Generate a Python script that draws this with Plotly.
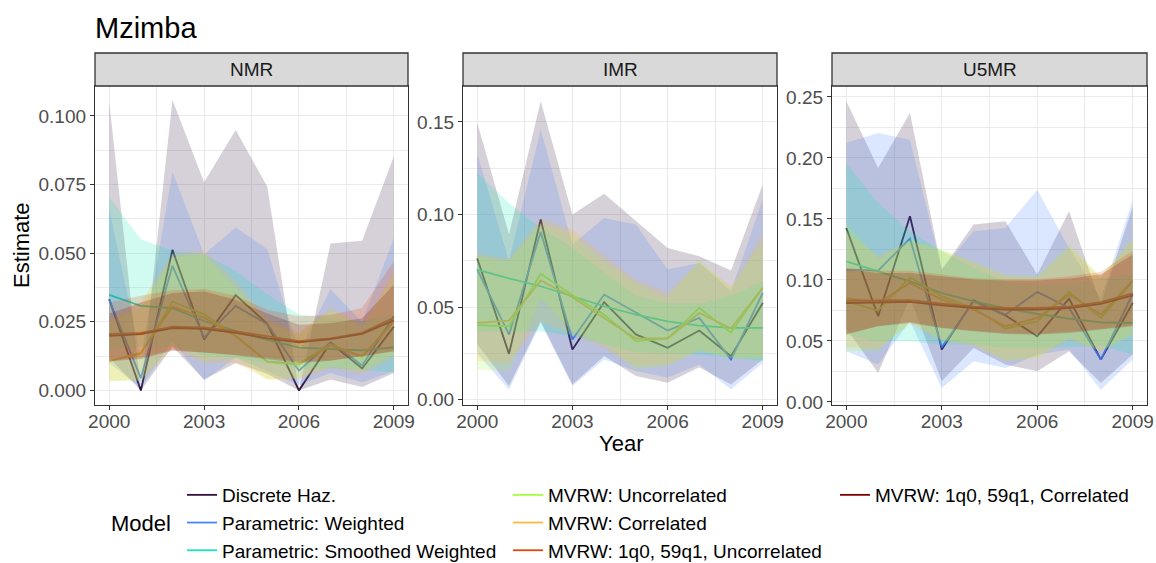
import plotly.graph_objects as go

# ---------------------------------------------------------------- data
years = list(range(2000, 2010))

models = [
    "Discrete Haz.",
    "Parametric: Weighted",
    "Parametric: Smoothed Weighted",
    "MVRW: Uncorrelated",
    "MVRW: Correlated",
    "MVRW: 1q0, 59q1, Uncorrelated",
    "MVRW: 1q0, 59q1, Correlated",
]
model_colors = ["#30123B", "#4686FB", "#1AE4B6", "#A2FC3C", "#FABA39", "#E4460A", "#7A0403"]

panels = ["NMR", "IMR", "U5MR"]

# --- NMR
nmr_dh = [0.0332, 0.0000, 0.0512, 0.0186, 0.0347, 0.0243, 0.0000, 0.0174, 0.0080, 0.0232]
nmr_dh_lo = [0.0120, 0.0000, 0.0160, 0.0040, 0.0100, 0.0060, 0.0000, 0.0040, 0.0013, 0.0064]
nmr_dh_hi = [0.1050, 0.0000, 0.1058, 0.0758, 0.0949, 0.0742, 0.0000, 0.0535, 0.0545, 0.0852]

nmr_pw = [0.0330, 0.0045, 0.0454, 0.0192, 0.0308, 0.0241, 0.0072, 0.0176, 0.0091, 0.0270]
nmr_pw_lo = [0.0100, 0.0010, 0.0180, 0.0036, 0.0120, 0.0070, 0.0020, 0.0064, 0.0030, 0.0070]
nmr_pw_hi = [0.0660, 0.0120, 0.0797, 0.0496, 0.0594, 0.0515, 0.0140, 0.0369, 0.0248, 0.0555]

nmr_psw = [0.0348, 0.0308, 0.0300, 0.0253, 0.0217, 0.0184, 0.0156, 0.0150, 0.0146, 0.0157]
nmr_psw_lo = [0.0150, 0.0160, 0.0160, 0.0130, 0.0120, 0.0100, 0.0080, 0.0080, 0.0075, 0.0065]
nmr_psw_hi = [0.0703, 0.0551, 0.0509, 0.0496, 0.0436, 0.0350, 0.0277, 0.0265, 0.0253, 0.0277]

nmr_mu = [0.0107, 0.0134, 0.0324, 0.0277, 0.0198, 0.0105, 0.0097, 0.0168, 0.0122, 0.0253]
nmr_mu_lo = [0.0034, 0.0034, 0.0168, 0.0107, 0.0120, 0.0040, 0.0046, 0.0089, 0.0070, 0.0131]
nmr_mu_hi = [0.0250, 0.0300, 0.0484, 0.0496, 0.0375, 0.0250, 0.0200, 0.0294, 0.0230, 0.0420]

nmr_mc = [0.0107, 0.0137, 0.0306, 0.0265, 0.0198, 0.0105, 0.0094, 0.0164, 0.0124, 0.0251]
nmr_mc_lo = [0.0035, 0.0040, 0.0150, 0.0100, 0.0100, 0.0040, 0.0040, 0.0080, 0.0060, 0.0120]
nmr_mc_hi = [0.0260, 0.0320, 0.0500, 0.0510, 0.0400, 0.0260, 0.0210, 0.0300, 0.0240, 0.0430]

nmr_m1u = [0.0205, 0.0210, 0.0232, 0.0230, 0.0215, 0.0197, 0.0180, 0.0190, 0.0210, 0.0265]
nmr_m1u_lo = [0.0110, 0.0120, 0.0148, 0.0140, 0.0130, 0.0120, 0.0105, 0.0110, 0.0125, 0.0145]
nmr_m1u_hi = [0.0320, 0.0345, 0.0365, 0.0370, 0.0345, 0.0294, 0.0270, 0.0275, 0.0300, 0.0470]

nmr_m1c = [0.0199, 0.0205, 0.0227, 0.0224, 0.0210, 0.0190, 0.0175, 0.0187, 0.0206, 0.0255]
nmr_m1c_lo = [0.0106, 0.0115, 0.0145, 0.0138, 0.0128, 0.0115, 0.0100, 0.0108, 0.0124, 0.0142]
nmr_m1c_hi = [0.0280, 0.0320, 0.0355, 0.0360, 0.0330, 0.0280, 0.0239, 0.0245, 0.0263, 0.0385]

# --- IMR
imr_dh = [0.0763, 0.0248, 0.0973, 0.0272, 0.0527, 0.0353, 0.0281, 0.0374, 0.0236, 0.0523]
imr_dh_lo = [0.0300, 0.0074, 0.0424, 0.0083, 0.0236, 0.0128, 0.0092, 0.0176, 0.0083, 0.0218]
imr_dh_hi = [0.1495, 0.0892, 0.1612, 0.1000, 0.1112, 0.0964, 0.0820, 0.0775, 0.0698, 0.1162]

imr_pw = [0.0703, 0.0353, 0.0906, 0.0326, 0.0568, 0.0469, 0.0374, 0.0442, 0.0218, 0.0577]
imr_pw_lo = [0.0250, 0.0056, 0.0415, 0.0074, 0.0218, 0.0155, 0.0119, 0.0190, 0.0056, 0.0200]
imr_pw_hi = [0.1327, 0.0750, 0.1459, 0.0838, 0.0982, 0.0946, 0.0703, 0.0739, 0.0586, 0.1081]

imr_psw = [0.0703, 0.0655, 0.0613, 0.0559, 0.0505, 0.0460, 0.0424, 0.0401, 0.0388, 0.0388]
imr_psw_lo = [0.0370, 0.0365, 0.0370, 0.0344, 0.0300, 0.0260, 0.0250, 0.0245, 0.0227, 0.0209]
imr_psw_hi = [0.1225, 0.1063, 0.0928, 0.0820, 0.0685, 0.0560, 0.0520, 0.0520, 0.0560, 0.0640]

imr_mu = [0.0403, 0.0397, 0.0680, 0.0565, 0.0460, 0.0317, 0.0331, 0.0496, 0.0362, 0.0608]
imr_mu_lo = [0.0164, 0.0155, 0.0550, 0.0370, 0.0299, 0.0164, 0.0182, 0.0263, 0.0227, 0.0218]
imr_mu_hi = [0.0775, 0.0748, 0.0955, 0.0892, 0.0748, 0.0631, 0.0550, 0.0757, 0.0604, 0.0856]

imr_mc = [0.0415, 0.0428, 0.0644, 0.0554, 0.0442, 0.0331, 0.0331, 0.0469, 0.0385, 0.0604]
imr_mc_lo = [0.0209, 0.0200, 0.0424, 0.0350, 0.0280, 0.0180, 0.0190, 0.0270, 0.0230, 0.0230]
imr_mc_hi = [0.0790, 0.0760, 0.0980, 0.0920, 0.0780, 0.0650, 0.0580, 0.0740, 0.0610, 0.0900]

# --- U5MR
u5_dh = [0.1426, 0.0702, 0.1522, 0.0429, 0.0833, 0.0710, 0.0538, 0.0847, 0.0347, 0.0811]
u5_dh_lo = [0.0600, 0.0238, 0.0852, 0.0169, 0.0443, 0.0306, 0.0251, 0.0415, 0.0156, 0.0388]
u5_dh_hi = [0.2464, 0.1918, 0.2369, 0.1085, 0.1454, 0.1481, 0.1044, 0.1563, 0.0798, 0.1600]

u5_pw = [0.1085, 0.1077, 0.1339, 0.0448, 0.0825, 0.0716, 0.0902, 0.0770, 0.0347, 0.0885]
u5_pw_lo = [0.0415, 0.0306, 0.0661, 0.0115, 0.0333, 0.0279, 0.0388, 0.0429, 0.0101, 0.0347]
u5_pw_hi = [0.2123, 0.2205, 0.2150, 0.1085, 0.1399, 0.1426, 0.1740, 0.1260, 0.0850, 0.1658]

u5_psw = [0.1153, 0.1071, 0.0989, 0.0893, 0.0825, 0.0770, 0.0721, 0.0683, 0.0653, 0.0648]
u5_psw_lo = [0.0552, 0.0497, 0.0497, 0.0470, 0.0470, 0.0443, 0.0443, 0.0450, 0.0460, 0.0388]
u5_psw_hi = [0.1959, 0.1631, 0.1399, 0.1235, 0.1098, 0.0989, 0.0962, 0.0962, 0.1016, 0.1044]

u5_mu = [0.0825, 0.0749, 0.1022, 0.0866, 0.0770, 0.0601, 0.0661, 0.0902, 0.0689, 0.0989]
u5_mu_lo = [0.0415, 0.0415, 0.0661, 0.0511, 0.0470, 0.0333, 0.0361, 0.0525, 0.0415, 0.0552]
u5_mu_hi = [0.1467, 0.1167, 0.1331, 0.1249, 0.1153, 0.1044, 0.1030, 0.1290, 0.1030, 0.1344]

u5_mc = [0.0852, 0.0811, 0.0975, 0.0839, 0.0757, 0.0620, 0.0689, 0.0880, 0.0716, 0.0995]
u5_mc_lo = [0.0450, 0.0440, 0.0640, 0.0500, 0.0460, 0.0340, 0.0370, 0.0510, 0.0420, 0.0560]
u5_mc_hi = [0.1400, 0.1200, 0.1320, 0.1240, 0.1140, 0.1030, 0.1020, 0.1260, 0.1020, 0.1330]

u5_m1u = [0.0830, 0.0830, 0.0835, 0.0805, 0.0782, 0.0770, 0.0770, 0.0782, 0.0818, 0.0890]
u5_m1u_lo = [0.0560, 0.0625, 0.0655, 0.0610, 0.0585, 0.0565, 0.0560, 0.0575, 0.0600, 0.0630]
u5_m1u_hi = [0.1100, 0.1075, 0.1075, 0.1045, 0.1015, 0.1005, 0.1005, 0.1030, 0.1065, 0.1240]

u5_m1c = [0.0811, 0.0817, 0.0820, 0.0792, 0.0770, 0.0757, 0.0757, 0.0770, 0.0803, 0.0874]
u5_m1c_lo = [0.0552, 0.0620, 0.0648, 0.0607, 0.0579, 0.0557, 0.0552, 0.0566, 0.0593, 0.0620]
u5_m1c_hi = [0.1085, 0.1057, 0.1057, 0.1030, 0.1003, 0.0995, 0.0995, 0.1011, 0.1044, 0.1208]

# (estimate, lower, upper) per model and panel; None = model not fitted there
series = {
    "NMR": [
        (nmr_dh, nmr_dh_lo, nmr_dh_hi),
        (nmr_pw, nmr_pw_lo, nmr_pw_hi),
        (nmr_psw, nmr_psw_lo, nmr_psw_hi),
        (nmr_mu, nmr_mu_lo, nmr_mu_hi),
        (nmr_mc, nmr_mc_lo, nmr_mc_hi),
        (nmr_m1u, nmr_m1u_lo, nmr_m1u_hi),
        (nmr_m1c, nmr_m1c_lo, nmr_m1c_hi),
    ],
    "IMR": [
        (imr_dh, imr_dh_lo, imr_dh_hi),
        (imr_pw, imr_pw_lo, imr_pw_hi),
        (imr_psw, imr_psw_lo, imr_psw_hi),
        (imr_mu, imr_mu_lo, imr_mu_hi),
        (imr_mc, imr_mc_lo, imr_mc_hi),
        None,
        None,
    ],
    "U5MR": [
        (u5_dh, u5_dh_lo, u5_dh_hi),
        (u5_pw, u5_pw_lo, u5_pw_hi),
        (u5_psw, u5_psw_lo, u5_psw_hi),
        (u5_mu, u5_mu_lo, u5_mu_hi),
        (u5_mc, u5_mc_lo, u5_mc_hi),
        (u5_m1u, u5_m1u_lo, u5_m1u_hi),
        (u5_m1c, u5_m1c_lo, u5_m1c_hi),
    ],
}

x_ticks = [2000, 2003, 2006, 2009]
y_ticks = {
    "NMR": [0.0, 0.025, 0.05, 0.075, 0.1],
    "IMR": [0.0, 0.05, 0.1, 0.15],
    "U5MR": [0.0, 0.05, 0.1, 0.15, 0.2, 0.25],
}
y_ticktext = {
    "NMR": ["0.000", "0.025", "0.050", "0.075", "0.100"],
    "IMR": ["0.00", "0.05", "0.10", "0.15"],
    "U5MR": ["0.00", "0.05", "0.10", "0.15", "0.20", "0.25"],
}
y_minor = {
    "NMR": [0.0125, 0.0375, 0.0625, 0.0875],
    "IMR": [0.025, 0.075, 0.125],
    "U5MR": [0.025, 0.075, 0.125, 0.175, 0.225],
}
y_range = {
    "NMR": [-0.0053, 0.1109],
    "IMR": [-0.0028, 0.1694],
    "U5MR": [-0.0025, 0.2590],
}

# ---------------------------------------------------------------- layout geometry
W, H = 1156, 563
FONT = "Liberation Sans, Arial, Helvetica, sans-serif"


def px_x(p):
    return p / W


def px_y(p):
    return 1 - p / H


panel_px = [(95, 408), (463, 777), (832, 1147)]
plot_top, plot_bot = 86, 405
strip_top = 53


def rgba(hex_color, a):
    h = hex_color.lstrip("#")
    r, g, b = int(h[0:2], 16), int(h[2:4], 16), int(h[4:6], 16)
    return f"rgba({r},{g},{b},{a})"


fig = go.Figure()
legend_of = ["legend", "legend", "legend", "legend2", "legend2", "legend2", "legend3"]

for pi, panel in enumerate(panels):
    xa = "x" if pi == 0 else f"x{pi + 1}"
    ya = "y" if pi == 0 else f"y{pi + 1}"
    # estimate lines
    for mi, name in enumerate(models):
        s = series[panel][mi]
        if s is None:
            continue
        est = s[0]
        fig.add_trace(go.Scatter(
            x=years, y=est, mode="lines", name=name,
            line=dict(color=model_colors[mi], width=1.8),
            xaxis=xa, yaxis=ya, hoverinfo="skip",
            showlegend=(pi == 0), legend=legend_of[mi],
        ))
    # uncertainty ribbons, drawn over the lines
    for mi, name in enumerate(models):
        s = series[panel][mi]
        if s is None:
            continue
        lo, hi = s[1], s[2]
        fig.add_trace(go.Scatter(
            x=years + years[::-1], y=hi + lo[::-1], mode="lines",
            fill="toself", fillcolor=rgba(model_colors[mi], 0.2),
            line=dict(width=0), xaxis=xa, yaxis=ya,
            hoverinfo="skip", showlegend=False,
        ))

axis_common = dict(
    showline=True, mirror=True, linecolor="#333333", linewidth=1.3,
    ticks="outside", ticklen=4, tickwidth=1.2, tickcolor="#333333",
    tickfont=dict(family=FONT, size=19, color="#4D4D4D"),
    showgrid=True, gridcolor="#EBEBEB", gridwidth=1.4,
    zeroline=False, automargin=False,
)

layout = dict(
    width=W, height=H,
    margin=dict(l=0, r=0, t=0, b=0, pad=0, autoexpand=False),
    paper_bgcolor="white", plot_bgcolor="white",
    font=dict(family=FONT, color="#000000"),
    shapes=[], annotations=[],
)

for pi, panel in enumerate(panels):
    x0, x1 = panel_px[pi]
    xkey = "xaxis" if pi == 0 else f"xaxis{pi + 1}"
    ykey = "yaxis" if pi == 0 else f"yaxis{pi + 1}"
    layout[xkey] = dict(
        axis_common,
        domain=[px_x(x0), px_x(x1)],
        range=[1999.55, 2009.45],
        tickvals=x_ticks, ticktext=[str(v) for v in x_ticks],
        ticklabelstandoff=-5,
        minor=dict(tickvals=[2001.5, 2004.5, 2007.5], showgrid=True,
                   gridcolor="#EBEBEB", gridwidth=1.0, ticks=""),
        anchor="y" if pi == 0 else f"y{pi + 1}",
    )
    layout[ykey] = dict(
        axis_common,
        domain=[px_y(plot_bot), px_y(plot_top)],
        range=y_range[panel],
        tickvals=y_ticks[panel], ticktext=y_ticktext[panel],
        minor=dict(tickvals=y_minor[panel], showgrid=True,
                   gridcolor="#EBEBEB", gridwidth=1.0, ticks=""),
        anchor="x" if pi == 0 else f"x{pi + 1}",
    )
    # facet strip
    layout["shapes"].append(dict(
        type="rect", xref="paper", yref="paper",
        x0=px_x(x0), x1=px_x(x1), y0=px_y(plot_top), y1=px_y(strip_top),
        fillcolor="#D9D9D9", line=dict(color="#333333", width=1.3), layer="above",
    ))
    layout["annotations"].append(dict(
        text=panel, xref="paper", yref="paper",
        x=px_x((x0 + x1) / 2), y=px_y((plot_top + strip_top) / 2),
        xanchor="center", yanchor="middle", showarrow=False,
        font=dict(family=FONT, size=19, color="#1A1A1A"),
    ))

layout["annotations"] += [
    dict(text="Mzimba", xref="paper", yref="paper", x=px_x(93), y=px_y(28),
         xanchor="left", yanchor="middle", showarrow=False,
         font=dict(family=FONT, size=29, color="#000000")),
    dict(text="Estimate", xref="paper", yref="paper", x=px_x(22), y=px_y(245),
         xanchor="center", yanchor="middle", showarrow=False, textangle=-90,
         font=dict(family=FONT, size=22, color="#000000")),
    dict(text="Year", xref="paper", yref="paper", x=px_x(621), y=px_y(443),
         xanchor="center", yanchor="middle", showarrow=False,
         font=dict(family=FONT, size=22, color="#000000")),
    dict(text="Model", xref="paper", yref="paper", x=px_x(109), y=px_y(523),
         xanchor="left", yanchor="middle", showarrow=False,
         font=dict(family=FONT, size=22, color="#000000")),
]

legend_common = dict(
    orientation="v", xanchor="left", yanchor="top",
    bgcolor="rgba(0,0,0,0)", borderwidth=0,
    font=dict(family=FONT, size=19, color="#000000"),
    itemclick=False, itemdoubleclick=False,
    tracegroupgap=0,
)
layout["legend"] = dict(legend_common, x=px_x(182), y=px_y(476))
layout["legend2"] = dict(legend_common, x=px_x(508), y=px_y(476))
layout["legend3"] = dict(legend_common, x=px_x(835), y=px_y(476))

fig.update_layout(**layout)
fig.write_html("out.html")
